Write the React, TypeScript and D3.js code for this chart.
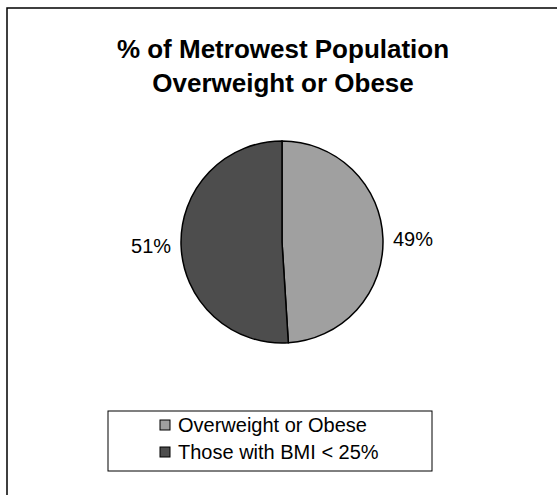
import React, { useEffect, useRef } from 'react';
import * as d3 from 'd3';

const categories: string[] = ['Overweight or Obese', 'Those with BMI < 25%'];
const values: number[] = [49, 51];
const valueLabels: string[] = ['49%', '51%'];
const colors: string[] = ['#A0A0A0', '#4D4D4D'];

const App: React.FC = () => {
  const ref = useRef<SVGSVGElement | null>(null);

  useEffect(() => {
    if (!ref.current) return;
    const svg = d3.select(ref.current);
    svg.selectAll('*').remove();

    const font = 'Liberation Sans, Arial, sans-serif';

    // outer frame (runs off the right and bottom edges)
    svg
      .append('rect')
      .attr('x', 7)
      .attr('y', 8)
      .attr('width', 600)
      .attr('height', 600)
      .attr('fill', '#fff')
      .attr('stroke', '#000')
      .attr('stroke-width', 1.5);

    // title
    const title = svg
      .append('text')
      .attr('text-anchor', 'middle')
      .attr('font-family', font)
      .attr('font-weight', 'bold')
      .attr('font-size', 26)
      .attr('fill', '#000');
    title.append('tspan').attr('x', 283).attr('y', 58).text('% of Metrowest Population');
    title.append('tspan').attr('x', 283).attr('y', 92).text('Overweight or Obese');

    // pie
    const cx = 282;
    const cy = 242;
    const r = 101;
    const pie = d3
      .pie<number>()
      .sort(null)
      .value((d) => d);
    const arc = d3.arc<d3.PieArcDatum<number>>().innerRadius(0).outerRadius(r);
    const g = svg.append('g').attr('transform', `translate(${cx},${cy})`);
    const arcs = pie(values);
    g.selectAll('path')
      .data(arcs)
      .enter()
      .append('path')
      .attr('d', arc)
      .attr('fill', (_, i) => colors[i])
      .attr('stroke', '#000')
      .attr('stroke-width', 1.5);

    // value labels outside the slices
    g.selectAll('.lbl')
      .data(arcs)
      .enter()
      .append('text')
      .attr('class', 'lbl')
      .attr('font-family', font)
      .attr('font-size', 20)
      .attr('fill', '#000')
      .attr('text-anchor', (d) => ((d.startAngle + d.endAngle) / 2 < Math.PI ? 'start' : 'end'))
      .attr('x', (d) => {
        const a = (d.startAngle + d.endAngle) / 2;
        return Math.sin(a) * (r + 10);
      })
      .attr('y', (d) => {
        const a = (d.startAngle + d.endAngle) / 2;
        return -Math.cos(a) * (r + 10) + 7;
      })
      .text((_, i) => valueLabels[i]);

    // legend
    const lg = svg.append('g');
    lg.append('rect')
      .attr('x', 108)
      .attr('y', 411)
      .attr('width', 324)
      .attr('height', 60)
      .attr('fill', '#fff')
      .attr('stroke', '#000')
      .attr('stroke-width', 1);
    categories.forEach((c, i) => {
      const y = 425 + i * 27;
      lg.append('rect')
        .attr('x', 160)
        .attr('y', y - 5)
        .attr('width', 10)
        .attr('height', 10)
        .attr('fill', colors[i])
        .attr('stroke', '#000')
        .attr('stroke-width', 1);
      lg.append('text')
        .attr('x', 178)
        .attr('y', y + 7)
        .attr('font-family', font)
        .attr('font-size', 20)
        .attr('fill', '#000')
        .text(c);
    });
  }, []);

  return <svg ref={ref} width={557} height={495} style={{ display: 'block', position: 'absolute', left: 0, top: 0 }} />;
};

export default App;
